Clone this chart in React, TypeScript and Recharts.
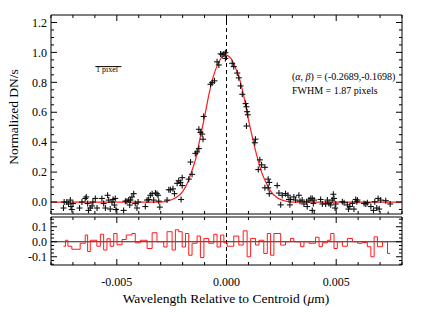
import React from 'react';
import { ComposedChart, Line, Scatter, XAxis, YAxis, ReferenceLine } from 'recharts';

// axis ticks
const xTicks = [-0.008, -0.007, -0.006, -0.005, -0.004, -0.003, -0.002, -0.001, 0, 0.001, 0.002, 0.003, 0.004, 0.005, 0.006, 0.007, 0.008];
const xLabelTicks = [-0.005, 0, 0.005];
const profileYTicks = [-0.05, 0, 0.05, 0.1, 0.15, 0.2, 0.25, 0.3, 0.35, 0.4, 0.45, 0.5, 0.55, 0.6, 0.65, 0.7, 0.75, 0.8, 0.85, 0.9, 0.95, 1.0, 1.05, 1.1, 1.15, 1.2];
const profileYLabels = [0, 0.2, 0.4, 0.6, 0.8, 1.0, 1.2];
const residYTicks = [-0.15, -0.125, -0.1, -0.075, -0.05, -0.025, 0, 0.025, 0.05, 0.075, 0.1, 0.125, 0.15];
const residYLabels = [-0.1, 0, 0.1];

// measured line profile (wavelength, normalized DN/s)
const profilePoints: [number, number][] = [
  [-0.0074, 0.0], [-0.00743, -0.04], [-0.00728, 0.0], [-0.0072, -0.013], [-0.00712, 0.013], [-0.00709, -0.03],
  [-0.00705, -0.05], [-0.007, -0.01], [-0.0067, -0.04], [-0.00659, 0.0], [-0.00644, 0.024], [-0.00639, 0.034],
  [-0.00633, -0.01], [-0.00629, -0.056], [-0.00621, -0.04], [-0.00613, -0.026], [-0.00609, 0.0], [-0.00598, 0.024],
  [-0.0059, -0.04], [-0.00568, 0.024], [-0.0056, -0.01], [-0.00552, -0.04], [-0.00542, 0.045], [-0.00537, 0.013],
  [-0.0053, -0.047], [-0.00522, 0.0], [-0.00517, 0.017], [-0.00511, -0.02], [-0.00507, 0.024], [-0.00504, -0.05],
  [-0.00469, -0.056], [-0.00461, 0.006], [-0.00454, 0.006], [-0.00446, 0.013], [-0.00441, -0.02], [-0.00438, 0.013],
  [-0.00431, 0.034], [-0.00423, 0.056], [-0.00416, -0.01], [-0.00408, -0.04], [-0.00403, 0.0], [-0.0037, -0.03],
  [-0.00362, 0.013], [-0.00355, 0.017], [-0.00347, 0.045], [-0.00339, 0.056], [-0.00332, 0.013], [-0.00324, 0.06],
  [-0.00317, 0.056], [-0.00312, 0.045], [-0.00309, 0.006], [-0.00304, -0.034], [-0.00271, 0.013], [-0.00263, 0.082],
  [-0.00256, 0.082], [-0.00244, 0.088], [-0.00237, 0.056], [-0.00225, 0.125], [-0.00218, 0.142], [-0.0021, 0.131],
  [-0.00207, 0.017], [-0.00202, 0.163], [-0.00202, 0.11], [-0.00172, 0.153], [-0.00164, 0.267], [-0.00157, 0.185],
  [-0.00142, 0.325], [-0.00134, 0.335], [-0.00126, 0.357],
  [-0.00126, 0.486], [-0.00119, 0.465], [-0.00111, 0.454], [-0.00107, 0.42], [-0.00104, 0.572], [-0.00073, 0.787],
  [-0.00065, 0.798], [-0.00055, 0.81], [-0.00043, 0.937], [-0.00035, 0.916], [-0.00027, 0.99], [-0.0002, 0.985],
  [-0.00012, 0.99], [-0.00005, 0.998], [-0.00005, 0.96], [0.00026, 0.927], [0.00033, 0.905], [0.00049, 0.862],
  [0.00056, 0.83], [0.00064, 0.776], [0.00072, 0.72], [0.00087, 0.658], [0.00091, 0.637], [0.00094, 0.604],
  [0.00097, 0.583], [0.00091, 0.508], [0.00132, 0.42], [0.00129, 0.396],
  [0.00152, 0.282], [0.0016, 0.249], [0.00145, 0.217], [0.00175, 0.232], [0.0019, 0.153], [0.00195, 0.131],
  [0.00175, 0.095], [0.0019, 0.095], [0.00195, 0.056],
  [0.00231, 0.11], [0.00239, 0.06], [0.00247, -0.019], [0.00254, 0.045], [0.00269, 0.056], [0.0028, 0.045],
  [0.00285, 0.017], [0.00289, -0.019], [0.00292, 0.017], [0.00307, 0.034], [0.00315, 0.013], [0.0033, 0.045],
  [0.00335, 0.006], [0.00345, 0.013], [0.00353, -0.013], [0.00365, 0.002], [0.00368, -0.03], [0.00376, 0.013],
  [0.00384, 0.024], [0.00391, 0.024], [0.00391, -0.056], [0.00396, -0.009], [0.00399, 0.013], [0.00429, 0.017],
  [0.00437, -0.013], [0.00452, -0.013], [0.0046, 0.013], [0.00467, -0.009], [0.00475, -0.019], [0.00482, 0.013],
  [0.00487, 0.052], [0.0049, 0.024], [0.00495, -0.04], [0.00498, -0.013], [0.00528, 0.002], [0.00536, -0.004],
  [0.00551, -0.019], [0.00556, -0.047], [0.00562, -0.03], [0.00574, -0.009], [0.00581, -0.047], [0.00589, 0.017],
  [0.00594, 0.002], [0.00597, 0.013], [0.00627, -0.009], [0.00635, -0.013], [0.00642, -0.004], [0.00658, -0.03],
  [0.0067, -0.056], [0.00676, 0.002], [0.00685, -0.04], [0.00691, 0.024], [0.00696, -0.047], [0.00703, 0.013],
  [0.00726, 0.009], [0.00737, -0.084], [0.00746, -0.013],
];

// fitted profile (red curve)
const fitX = [-0.008, -0.003, -0.0026, -0.0023, -0.002, -0.0018, -0.0016, -0.0014, -0.0012, -0.001, -0.0008, -0.0006, -0.0004, -0.0002, 0, 0.0002, 0.0004, 0.0006, 0.0008, 0.001, 0.0012, 0.0014, 0.0016, 0.0018, 0.002, 0.0023, 0.0026, 0.003, 0.008];
const fitY = [0, 0, 0.01, 0.03, 0.07, 0.12, 0.2, 0.29, 0.43, 0.57, 0.72, 0.84, 0.92, 0.97, 0.98, 0.96, 0.9, 0.82, 0.7, 0.55, 0.42, 0.3, 0.2, 0.13, 0.075, 0.03, 0.01, 0, 0];

// residuals (step starts)
const residX = [-0.00743, -0.00734, -0.00723, -0.00705, -0.00667, -0.00644, -0.00633, -0.00621, -0.00591, -0.00575, -0.0056, -0.00545, -0.0053, -0.00514, -0.00499, -0.00476, -0.00457, -0.00431, -0.00416, -0.00393, -0.00362, -0.00339, -0.00317, -0.00286, -0.00271, -0.00248, -0.00233, -0.00218, -0.00202, -0.00187, -0.00172, -0.00157, -0.00134, -0.00119, -0.00103, -0.00081, -0.00058, -0.00043, -0.00027, -0.00012, 0.00003, 0.00033, 0.00056, 0.00076, 0.00094, 0.0011, 0.00132, 0.00148, 0.0017, 0.00186, 0.00201, 0.00216, 0.00247, 0.00269, 0.00292, 0.00307, 0.00338, 0.00353, 0.00376, 0.00406, 0.00422, 0.00437, 0.0046, 0.00475, 0.0049, 0.00505, 0.00528, 0.00551, 0.00574, 0.00597, 0.00619, 0.00642, 0.00658, 0.00673, 0.00688, 0.00711, 0.00734, 0.00746];
const residY = [-0.03, 0.01, -0.03, -0.05, -0.01, 0.045, -0.065, 0.01, -0.03, 0.05, -0.055, 0.02, -0.03, 0.055, -0.02, 0.015, 0.045, 0.055, -0.007, 0.01, -0.045, 0.06, 0, -0.035, 0.067, -0.055, 0.08, 0.067, -0.035, 0.055, -0.09, -0.01, 0.038, -0.105, 0.022, -0.01, 0.05, -0.035, 0.045, -0.007, -0.03, 0.038, -0.022, 0.073, -0.1, 0.022, -0.022, 0.01, -0.078, 0.055, -0.09, 0.055, -0.022, 0, 0.022, 0, -0.033, 0, -0.01, 0.03, -0.033, -0.007, 0.01, 0.055, -0.045, 0, -0.03, 0.022, 0, -0.01, -0.005, -0.033, -0.1, 0.033, -0.033, 0, -0.078, -0.078];

const pointData = profilePoints.map(([x, y]) => ({ x, y }));
const fitData = fitX.map((x, i) => ({ x, y: fitY[i] }));
const residData = residX.map((x, i) => ({ x, r: residY[i] }));

const FONT = '"Liberation Serif", "Times New Roman", Times, serif';
const RED = '#ff1a1a';
const PLOT_L = 51;
const PLOT_R = 402;
const txt = { fontFamily: FONT };

const near = (v: number, list: number[]) => list.some((t) => Math.abs(t - v) < 1e-9);

type Side = 'left' | 'right' | 'top' | 'bottom';

// IDL-style inward ticks, drawn from the plot frame
function makeTick(side: Side, edge: number, majors: number[], fmt?: (v: number) => string, labelY?: number) {
  return (props: any) => {
    const { x, y, payload } = props;
    const v = payload.value;
    const major = near(v, majors);
    const len = major ? 6 : 3;
    let line;
    if (side === 'left') line = <line x1={edge} x2={edge + len} y1={y} y2={y} />;
    else if (side === 'right') line = <line x1={edge} x2={edge - len} y1={y} y2={y} />;
    else if (side === 'top') line = <line x1={x} x2={x} y1={edge} y2={edge + len} />;
    else line = <line x1={x} x2={x} y1={edge} y2={edge - len} />;
    let label = null;
    if (fmt && major) {
      if (side === 'left') {
        label = (
          <text x={edge - 4} y={y} dy="0.35em" textAnchor="end" fontSize={12} style={txt} fill="#000" stroke="none">
            {fmt(v)}
          </text>
        );
      } else if (side === 'bottom') {
        label = (
          <text x={x} y={labelY} textAnchor="middle" fontSize={12} style={txt} fill="#000" stroke="none">
            {fmt(v)}
          </text>
        );
      }
    }
    return (
      <g stroke="#000" strokeWidth={1}>
        {line}
        {label}
      </g>
    );
  };
}

const PlusMark = (props: any) => {
  const { cx, cy } = props;
  if (cx == null || cy == null) return null;
  return (
    <g stroke="#111" strokeWidth={1.1}>
      <line x1={cx - 3} x2={cx + 3} y1={cy} y2={cy} />
      <line x1={cx} x2={cx} y1={cy - 3} y2={cy + 3} />
    </g>
  );
};

const fmtY = (v: number) => (Math.abs(v) < 1e-9 ? '0.0' : v.toFixed(1));
const fmtX = (v: number) => (Math.abs(v) < 1e-9 ? '0.000' : v.toFixed(3));

const TOP_H = 216;
const TOP_T = 15;
const TOP_B = 214;
const BOT_OFF = 216;
const BOT_H = 96;
const BOT_T = 1;
const BOT_B = 49;

export default function App() {
  return (
    <div style={{ position: 'absolute', left: 0, top: 0, width: 423, height: 312, background: '#fff', fontFamily: FONT }}>
      <div style={{ position: 'absolute', left: 0, top: 0 }}>
        <ComposedChart width={423} height={TOP_H} margin={{ top: 14, right: 20, bottom: 1, left: 10 }}>
          <XAxis xAxisId="b" dataKey="x" type="number" domain={[-0.008, 0.008]} allowDataOverflow ticks={xTicks} interval={0}
            height={1} axisLine={{ stroke: '#000' }} tickLine={false} tick={makeTick('bottom', TOP_B, xLabelTicks)} />
          <XAxis xAxisId="t" orientation="top" dataKey="x" type="number" domain={[-0.008, 0.008]} allowDataOverflow ticks={xTicks} interval={0}
            height={1} axisLine={{ stroke: '#000' }} tickLine={false} tick={makeTick('top', TOP_T, xLabelTicks)} />
          <YAxis yAxisId="l" type="number" domain={[-0.08, 1.25]} allowDataOverflow ticks={profileYTicks} interval={0}
            width={41} axisLine={{ stroke: '#000' }} tickLine={false} tick={makeTick('left', PLOT_L, profileYLabels, fmtY)} />
          <YAxis yAxisId="r" orientation="right" type="number" domain={[-0.08, 1.25]} allowDataOverflow ticks={profileYTicks} interval={0}
            width={1} axisLine={{ stroke: '#000' }} tickLine={false} tick={makeTick('right', PLOT_R, profileYLabels)} />
          <ReferenceLine xAxisId="b" yAxisId="l" x={0} stroke="#000" strokeDasharray="4 3" />
          <ReferenceLine xAxisId="b" yAxisId="l" stroke="#000" strokeWidth={1}
            segment={[{ x: -0.00598, y: 0.905 }, { x: -0.00479, y: 0.905 }]} />
          <Line xAxisId="b" yAxisId="l" data={fitData} dataKey="y" type="monotone" stroke={RED} strokeWidth={1.2}
            dot={false} isAnimationActive={false} />
          <Scatter xAxisId="b" yAxisId="l" data={pointData} dataKey="y" shape={PlusMark} isAnimationActive={false} />
        </ComposedChart>
      </div>
      <div style={{ position: 'absolute', left: 0, top: BOT_OFF }}>
        <ComposedChart width={423} height={BOT_H} margin={{ top: 0, right: 20, bottom: 17, left: 10 }}>
          <XAxis xAxisId="b" dataKey="x" type="number" domain={[-0.008, 0.008]} allowDataOverflow ticks={xTicks} interval={0}
            height={30} axisLine={{ stroke: '#000' }} tickLine={false}
            tick={makeTick('bottom', BOT_B, xLabelTicks, fmtX, 70)} />
          <XAxis xAxisId="t" orientation="top" dataKey="x" type="number" domain={[-0.008, 0.008]} allowDataOverflow ticks={xTicks} interval={0}
            height={1} axisLine={{ stroke: '#000' }} tickLine={false} tick={makeTick('top', BOT_T, xLabelTicks)} />
          <YAxis yAxisId="l" type="number" domain={[-0.155, 0.165]} allowDataOverflow ticks={residYTicks} interval={0}
            width={41} axisLine={{ stroke: '#000' }} tickLine={false} tick={makeTick('left', PLOT_L, residYLabels, fmtY)} />
          <YAxis yAxisId="r" orientation="right" type="number" domain={[-0.155, 0.165]} allowDataOverflow ticks={residYTicks} interval={0}
            width={1} axisLine={{ stroke: '#000' }} tickLine={false} tick={makeTick('right', PLOT_R, residYLabels)} />
          <ReferenceLine xAxisId="b" yAxisId="l" y={0} stroke="#222" strokeWidth={1} />
          <ReferenceLine xAxisId="b" yAxisId="l" x={0} stroke="#000" strokeDasharray="4 3" />
          <Line xAxisId="b" yAxisId="l" data={residData} dataKey="r" type="stepAfter" stroke={RED} strokeWidth={1}
            dot={false} isAnimationActive={false} />
        </ComposedChart>
      </div>
      <svg width={423} height={312} style={{ position: 'absolute', left: 0, top: 0, pointerEvents: 'none' }}>
        <text transform="translate(18,117) rotate(-90)" textAnchor="middle" fontSize={13.5} style={txt} fill="#000">
          Normalized DN/s
        </text>
        <text x={226} y={303} textAnchor="middle" fontSize={13.5} style={txt} fill="#000">
          Wavelength Relative to Centroid (<tspan fontStyle="italic">μ</tspan>m)
        </text>
        <text x={292} y={80} fontSize={10} style={txt} fill="#000">
          (<tspan fontStyle="italic">α</tspan>, <tspan fontStyle="italic">β</tspan>) = (-0.2689,-0.1698)
        </text>
        <text x={292} y={94} fontSize={10} style={txt} fill="#000">
          FWHM = 1.87 pixels
        </text>
        <text x={96} y={72} fontSize={8} style={txt} fill="#000">
          1 pixel
        </text>
      </svg>
    </div>
  );
}
